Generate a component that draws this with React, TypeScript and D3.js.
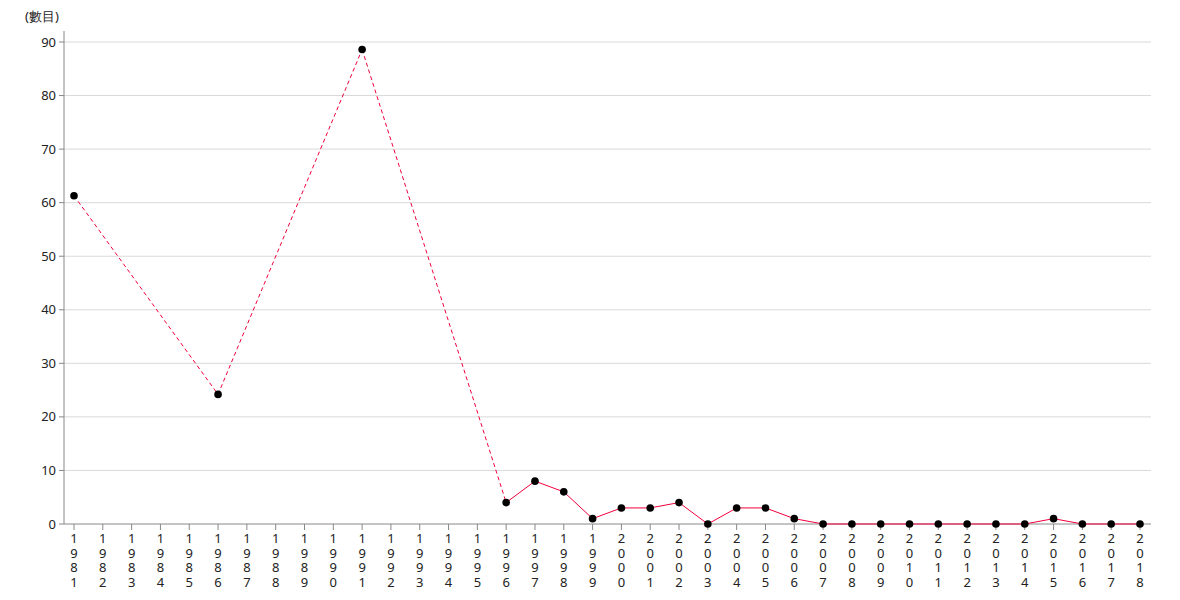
import React from "react";
import * as d3 from "d3";

const years: string[] = [];
for (let y = 1981; y <= 2018; y++) years.push(String(y));

const dataYears = ["1981","1986","1991","1996","1997","1998","1999","2000","2001","2002","2003","2004","2005","2006","2007","2008","2009","2010","2011","2012","2013","2014","2015","2016","2017","2018"];
const dataValues = [61.3,24.2,88.6,4,8,6,1,3,3,4,0,3,3,1,0,0,0,0,0,0,0,0,1,0,0,0];
const yTicks = [0,10,20,30,40,50,60,70,80,90];
const yLabel = "(數目)";

const W = 1180, H = 600;
const left = 64, right = 1151, top = 31, bottom = 524;

export default function App() {
  const x = d3.scalePoint<string>().domain(years).range([74, 1140]);
  const y = d3.scaleLinear().domain([0, 90]).range([bottom, 42]);
  const pts = dataYears.map((yr, i) => ({ yr, v: dataValues[i], idx: years.indexOf(yr) }));
  const segs = [] as { a: typeof pts[0]; b: typeof pts[0]; dashed: boolean }[];
  for (let i = 0; i < pts.length - 1; i++) {
    segs.push({ a: pts[i], b: pts[i + 1], dashed: pts[i + 1].idx - pts[i].idx > 1 });
  }
  const font = "'Noto Sans', 'Open Sans', sans-serif";
  return (
    <svg width={W} height={H} style={{ position: "absolute", left: 0, top: 0 }} fontFamily={font}>
      <rect width={W} height={H} fill="#fff" />
      {yTicks.map(t => (
        <g key={t}>
          {t > 0 && <line x1={left} x2={right} y1={y(t)} y2={y(t)} stroke="#d9d9d9" strokeWidth={1} />}
          <line x1={left - 5} x2={left} y1={y(t)} y2={y(t)} stroke="#888" />
          <text x={left - 8} y={y(t)} dy="0.35em" textAnchor="end" fontSize={13} fill="#222">{t}</text>
        </g>
      ))}
      <line x1={left} x2={left} y1={top} y2={bottom} stroke="#888" />
      <line x1={left} x2={right} y1={bottom} y2={bottom} stroke="#888" />
      {years.map(yr => (
        <g key={yr} transform={`translate(${x(yr)},0)`}>
          <line y1={bottom} y2={bottom + 6} stroke="#888" />
          {yr.split("").map((c, i) => (
            <text key={i} x={0} y={543 + i * 14.6} textAnchor="middle" fontSize={13} fill="#222">{c}</text>
          ))}
        </g>
      ))}
      <text x={25} y={21} fontSize={13} fill="#222">{yLabel}</text>
      {segs.map((s, i) => (
        <line key={i} x1={x(s.a.yr)} y1={y(s.a.v)} x2={x(s.b.yr)} y2={y(s.b.v)}
          stroke="#f0003c" strokeWidth={1} strokeDasharray={s.dashed ? "4,3" : undefined} />
      ))}
      {pts.map(p => (
        <circle key={p.yr} cx={x(p.yr)} cy={y(p.v)} r={3.8} fill="#000" />
      ))}
    </svg>
  );
}
